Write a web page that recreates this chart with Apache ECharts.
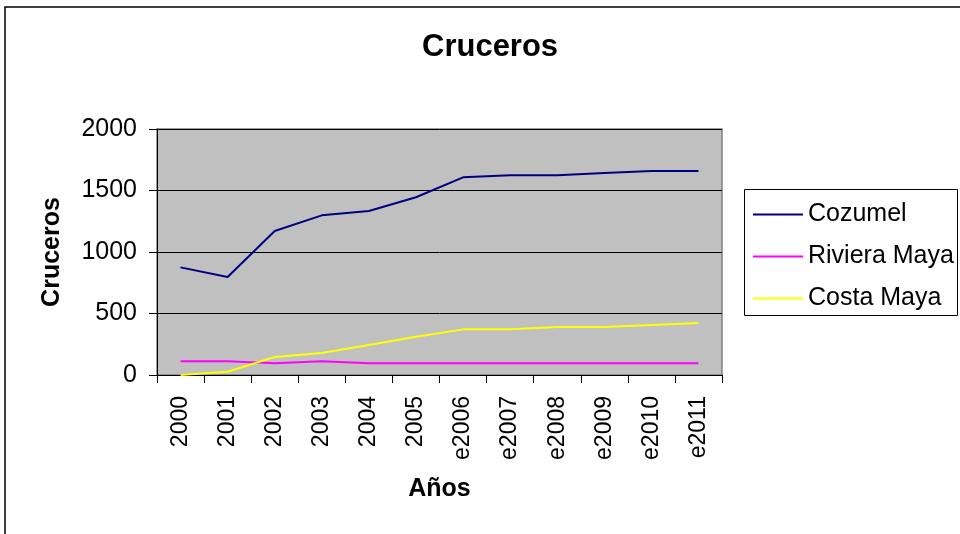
<!DOCTYPE html>
<html>
<head>
<meta charset="utf-8">
<script src="https://cdn.jsdelivr.net/npm/echarts@6/dist/echarts.min.js"></script>
<style>html,body{margin:0;padding:0;background:#fff}#c{width:960px;height:534px}</style>
</head>
<body>
<div id="c"></div>
<script>
var categories = ['2000','2001','2002','2003','2004','2005','e2006','e2007','e2008','e2009','e2010','e2011'];
var cozumel = [875, 797, 1171, 1298, 1333, 1445, 1607, 1623, 1623, 1642, 1659, 1659];
var rivieraMaya = [111, 111, 95, 111, 95, 95, 95, 95, 95, 95, 95, 95];
var costaMaya = [0, 27, 146, 179, 244, 311, 371, 371, 390, 390, 407, 423];
var yTicks = [0, 500, 1000, 1500, 2000];

var font = 'Liberation Sans, Arial, sans-serif';
var chart = echarts.init(document.getElementById('c'), null, {renderer: 'canvas'});
chart.setOption({
  animation: false,
  backgroundColor: '#fff',
  textStyle: {fontFamily: font},
  graphic: [{
    type: 'rect', z: -10,
    shape: {x: 5, y: 7, width: 1000, height: 700},
    style: {fill: 'none', stroke: '#000', lineWidth: 1.5}
  }, {
    type: 'rect', z: 0,
    shape: {x: 744.5, y: 189.5, width: 213, height: 126},
    style: {fill: '#fff', stroke: '#000', lineWidth: 1}
  }],
  title: {
    text: 'Cruceros', left: 422, top: 32, padding: 0,
    textStyle: {fontFamily: font, fontSize: 31, fontWeight: 'bold', color: '#000'}
  },
  legend: {
    orient: 'vertical', left: 753, top: 202, z: 10,
    padding: 0,
    itemGap: 17, itemWidth: 50, itemHeight: 2,
    icon: 'rect',
    textStyle: {fontFamily: font, fontSize: 25, lineHeight: 25, color: '#000'},
    data: ['Cozumel', 'Riviera Maya', 'Costa Maya']
  },
  grid: {
    left: 157, top: 129, right: 238, bottom: 159,
    show: true, backgroundColor: '#C0C0C0', borderColor: '#808080', borderWidth: 1.5
  },
  xAxis: {
    type: 'category', data: categories, boundaryGap: true,
    name: 'Años', nameLocation: 'middle', nameGap: 102,
    nameTextStyle: {fontFamily: font, fontSize: 25, fontWeight: 'bold', color: '#000'},
    axisLine: {lineStyle: {color: '#000', width: 1}},
    axisTick: {show: true, length: 8, alignWithLabel: false, lineStyle: {color: '#000'}},
    axisLabel: {rotate: 90, fontSize: 23, color: '#000', margin: 21, fontFamily: font, interval: 0}
  },
  yAxis: {
    type: 'value', min: yTicks[0], max: yTicks[yTicks.length-1], interval: 500,
    name: 'Cruceros', nameLocation: 'middle', nameGap: 92, nameRotate: 90,
    nameTextStyle: {fontFamily: font, fontSize: 25, fontWeight: 'bold', color: '#000'},
    axisLine: {show: true, lineStyle: {color: '#000', width: 1}},
    axisTick: {show: true, length: 8, lineStyle: {color: '#000'}},
    axisLabel: {fontSize: 25, color: '#000', margin: 20, fontFamily: font, formatter: function (v) { return String(v); }},
    splitLine: {show: true, lineStyle: {color: '#000', width: 1}}
  },
  series: [
    {name: 'Cozumel', type: 'line', data: cozumel, symbol: 'none', lineStyle: {color: '#000080', width: 2}, itemStyle: {color: '#000080'}},
    {name: 'Riviera Maya', type: 'line', data: rivieraMaya, symbol: 'none', lineStyle: {color: '#FF00FF', width: 2}, itemStyle: {color: '#FF00FF'}},
    {name: 'Costa Maya', type: 'line', data: costaMaya, symbol: 'none', lineStyle: {color: '#FFFF00', width: 2}, itemStyle: {color: '#FFFF00'}}
  ]
});
</script>
</body>
</html>
